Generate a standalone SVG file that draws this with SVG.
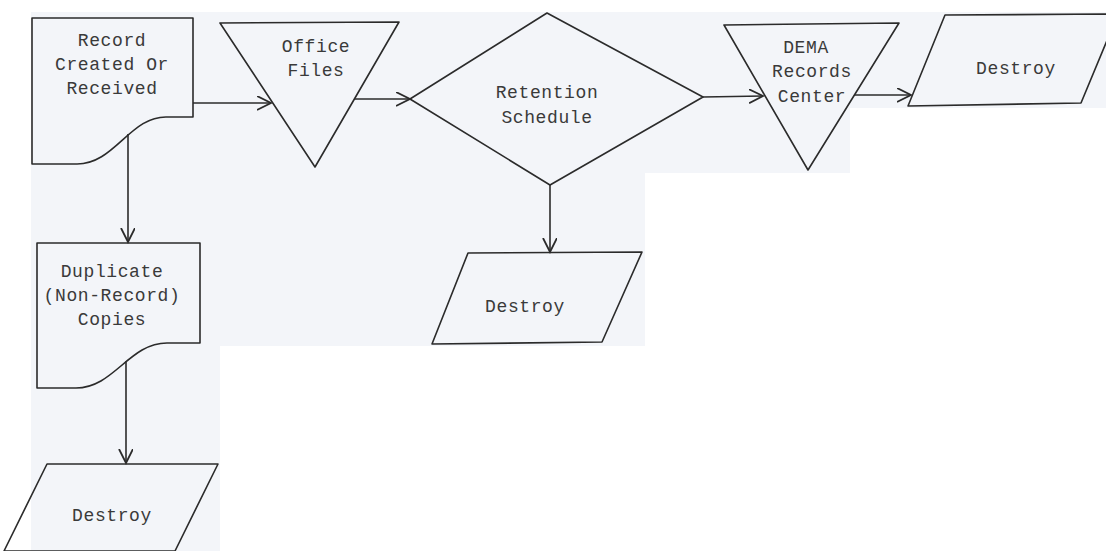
<svg xmlns="http://www.w3.org/2000/svg" width="1106" height="551" viewBox="0 0 1106 551">
<defs>
<style>
.bg{fill:#f3f5f9;stroke:none}
.shape{fill:none;stroke:#2b2b2b;stroke-width:1.6;stroke-linejoin:round}
.conn{fill:none;stroke:#2b2b2b;stroke-width:1.6}
.lbl{font-family:"Liberation Mono","Courier New",monospace;font-size:18px;letter-spacing:0.6px;fill:#3a3a3a;text-anchor:middle}
</style>
<marker id="arr" markerUnits="userSpaceOnUse" markerWidth="16" markerHeight="16" refX="14" refY="7" orient="auto" viewBox="0 0 16 16">
<path d="M0,0 L14,7 L0,14" fill="none" stroke="#2b2b2b" stroke-width="1.8"/>
</marker>
</defs>
<rect width="1106" height="551" fill="#ffffff"/>
<g id="background">
<rect class="bg" x="31" y="12" width="614" height="334"/>
<rect class="bg" x="645" y="12" width="205" height="161"/>
<rect class="bg" x="850" y="12" width="256" height="96"/>
<rect class="bg" x="31" y="346" width="189" height="205"/>
</g>
<g id="connectors">
<line class="conn" x1="193" y1="103" x2="271" y2="103" marker-end="url(#arr)"/>
<line class="conn" x1="354" y1="99" x2="410" y2="99" marker-end="url(#arr)"/>
<line class="conn" x1="703" y1="97" x2="763" y2="96" marker-end="url(#arr)"/>
<line class="conn" x1="854" y1="95" x2="911" y2="95" marker-end="url(#arr)"/>
<line class="conn" x1="550" y1="185" x2="550" y2="252" marker-end="url(#arr)"/>
<line class="conn" x1="128" y1="134" x2="128" y2="242" marker-end="url(#arr)"/>
<line class="conn" x1="126" y1="361" x2="126" y2="463" marker-end="url(#arr)"/>
</g>
<g id="node-record">
<path class="shape" d="M32,18 H193 V117 H168 C130,115 115,165 76,164 H32 Z"/>
<text class="lbl" x="112" y="46">Record</text>
<text class="lbl" x="112" y="70">Created Or</text>
<text class="lbl" x="112" y="94">Received</text>
</g>
<g id="node-office">
<path class="shape" d="M220,23 L399,22 L315,167 Z"/>
<text class="lbl" x="316" y="52">Office</text>
<text class="lbl" x="316" y="76">Files</text>
</g>
<g id="node-retention">
<path class="shape" d="M410,99 L547,13 L703,97 L550,185 Z"/>
<text class="lbl" x="547" y="98">Retention</text>
<text class="lbl" x="547" y="123">Schedule</text>
</g>
<g id="node-dema">
<path class="shape" d="M724,25 L899,23 L808,170 Z"/>
<text class="lbl" x="806" y="53">DEMA</text>
<text class="lbl" x="812" y="77">Records</text>
<text class="lbl" x="812" y="102">Center</text>
</g>
<g id="node-destroy-1">
<path class="shape" d="M945,15 L1118,14 L1081,103 L908,106 Z"/>
<text class="lbl" x="1016" y="74">Destroy</text>
</g>
<g id="node-destroy-2">
<path class="shape" d="M468,253 L642,252 L602,342 L432,344 Z"/>
<text class="lbl" x="525" y="312">Destroy</text>
</g>
<g id="node-duplicate">
<path class="shape" d="M37,243 H200 V343 H167 C129,343 114,388 76,388 H37 Z"/>
<text class="lbl" x="112" y="277">Duplicate</text>
<text class="lbl" x="112" y="301">(Non-Record)</text>
<text class="lbl" x="112" y="325">Copies</text>
</g>
<g id="node-destroy-3">
<path class="shape" d="M47,464 L218,464 L175,551 L4,551 Z"/>
<text class="lbl" x="112" y="521">Destroy</text>
</g>
</svg>
